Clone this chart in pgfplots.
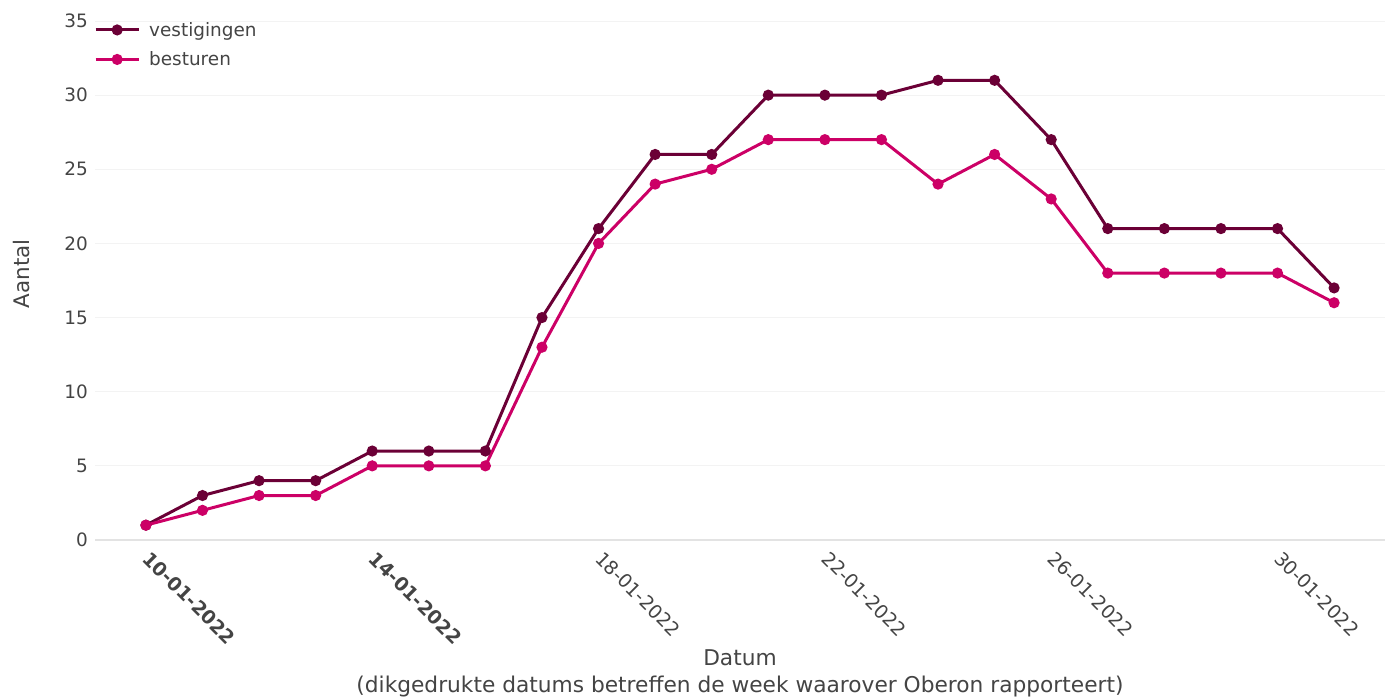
\documentclass[border=0pt]{standalone}
\usepackage{pgfplots}
\pgfplotsset{compat=1.18}
\usepackage{pgfplotstable}
\usepackage{fontspec}
\setmainfont{DejaVu Sans}
\definecolor{vest}{HTML}{6B0036}
\definecolor{best}{HTML}{CC0066}
\definecolor{txt}{HTML}{444444}
\definecolor{gridgray}{HTML}{F3F3F3}
\definecolor{axisgray}{HTML}{E3E3E3}
\pgfplotstableread{
day vest best
10 1 1
11 3 2
12 4 3
13 4 3
14 6 5
15 6 5
16 6 5
17 15 13
18 21 20
19 26 24
20 26 25
21 30 27
22 30 27
23 30 27
24 31 24
25 31 26
26 27 23
27 21 18
28 21 18
29 21 18
30 21 18
31 17 16
}\datatable
\begin{document}
\begin{tikzpicture}
\useasboundingbox (-95bp,-160bp) rectangle (1290bp,540bp);
\begin{axis}[
  at={(0,0)}, anchor=south west,
  scale only axis, width=1290bp, height=519bp,
  xmin=9.1, xmax=31.9, ymin=0, ymax=35,
  axis line style={draw=none},
  major tick length=0pt,
  /pgf/number format/assume math mode=true,
  ymajorgrids, grid style={color=gridgray, line width=1bp},
  ytick={0,5,...,35},
  xtick={10,14,18,22,26,30},
  xticklabels={\textbf{10-01-2022},\textbf{14-01-2022},18-01-2022,22-01-2022,26-01-2022,30-01-2022},
  xticklabel style={rotate=-45, anchor=north west, inner sep=0pt, yshift=-3bp, xshift=11bp, font=\fontsize{19}{22}\selectfont, text=txt},
  yticklabel style={font=\fontsize{18.5}{22}\selectfont, text=txt, inner sep=0pt, xshift=-7bp},
  ylabel={Aantal},
  ylabel style={at={(axis description cs:-0.0566,0.513)}, anchor=center, font=\fontsize{21.5}{24}\selectfont, text=txt},
  xlabel={Datum\\(dikgedrukte datums betreffen de week waarover Oberon rapporteert)},
  xlabel style={at={(axis description cs:0.5,-0.21)}, anchor=north, align=center, inner sep=0pt, font=\fontsize{21.8}{28}\selectfont, text=txt},
  legend style={at={(axis description cs:0,1)}, anchor=north west, xshift=-4bp, yshift=2bp, draw=none, fill=none,
    font=\fontsize{18.5}{22}\selectfont, text=txt, row sep=12bp,
    nodes={inner sep=1bp, inner xsep=4bp},
    /tikz/every odd column/.append style={column sep=5bp}},
  legend cell align=left,
  legend image code/.code={\draw[mark repeat=2,mark phase=2,#1] plot coordinates {(0bp,0bp) (21.5bp,0bp) (43bp,0bp)};},
  every axis plot/.append style={line width=3bp, mark=*, mark size=4bp},
]
\draw[color=axisgray, line width=2bp] (rel axis cs:0,0) -- (rel axis cs:1,0);
\addplot[color=vest, mark options={fill=vest, draw=vest}] table[x=day, y=vest] {\datatable};
\addlegendentry{vestigingen}
\addplot[color=best, mark options={fill=best, draw=best}] table[x=day, y=best] {\datatable};
\addlegendentry{besturen}
\end{axis}
\end{tikzpicture}
\end{document}
